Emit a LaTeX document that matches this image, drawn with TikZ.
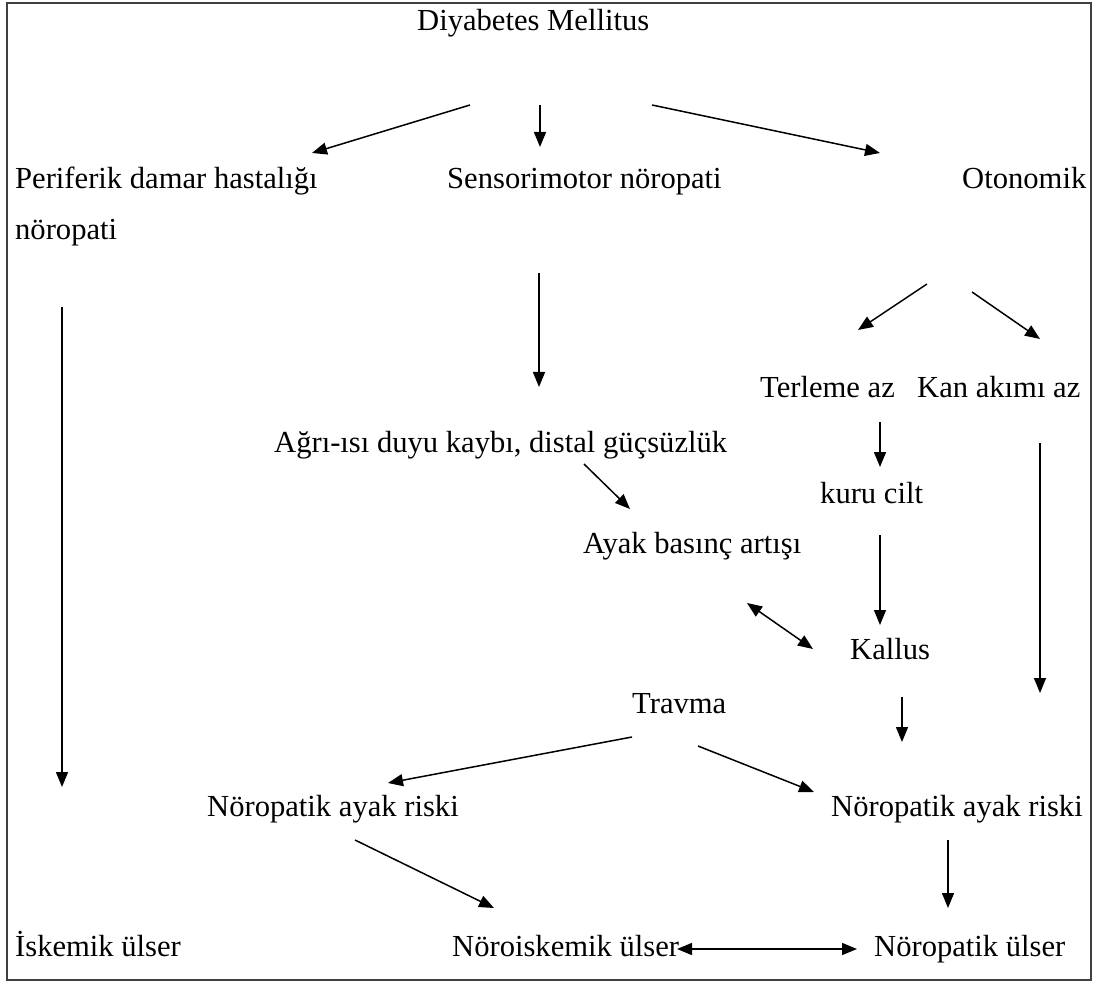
\documentclass[tikz,border=0pt]{standalone}
\usepackage{fontspec}
\setmainfont{Liberation Serif}
\usetikzlibrary{arrows.meta}
\begin{document}
\begin{tikzpicture}[x=1pt,y=-1pt,
  lbl/.style={anchor=base west,inner sep=0pt,font=\fontsize{30.6}{36}\selectfont},
  conn/.style={line width=1.5pt,-{Triangle[length=15pt,width=12pt]}},
  dconn/.style={line width=1.5pt,{Triangle[length=15pt,width=12pt]}-{Triangle[length=15pt,width=12pt]}}]
\useasboundingbox (0,0) rectangle (1093,984);
\draw[line width=2pt,black!75] (7,3) rectangle (1091,980);
% texts
\node[lbl] (dm) at (417,31) {Diyabetes Mellitus};
\node[lbl] (pdh) at (15,189) {Periferik damar hastalığı};
\node[lbl] (pdh2) at (15,240) {nöropati};
\node[lbl] (sn) at (447,189) {Sensorimotor nöropati};
\node[lbl] (oto) at (962,189) {Otonomik};
\node[lbl] (ter) at (760,398) {Terleme az};
\node[lbl] (kan) at (917,398) {Kan akımı az};
\node[lbl] (agri) at (274,452) {Ağrı-ısı duyu kaybı, distal güçsüzlük};
\node[lbl] (kuru) at (820,503) {kuru cilt};
\node[lbl] (ayak) at (583,553) {Ayak basınç artışı};
\node[lbl] (kal) at (850,659) {Kallus};
\node[lbl] (tra) at (632,713) {Travma};
\node[lbl] (nar1) at (207,816) {Nöropatik ayak riski};
\node[lbl] (nar2) at (831,816) {Nöropatik ayak riski};
\node[lbl] (isk) at (15,956) {İskemik ülser};
\node[lbl] (noi) at (452,956) {Nöroiskemik ülser};
\node[lbl] (nu) at (874,956) {Nöropatik ülser};
% connector end points
\coordinate (c1a) at (470,105); \coordinate (c1b) at (312,153);
\coordinate (c2a) at (540,105); \coordinate (c2b) at (540,147);
\coordinate (c3a) at (652,105); \coordinate (c3b) at (880,153);
\coordinate (c4a) at (62,307);  \coordinate (c4b) at (62,787);
\coordinate (c5a) at (539,273); \coordinate (c5b) at (539,387);
\coordinate (c6a) at (927,284); \coordinate (c6b) at (858,330);
\coordinate (c7a) at (972,292); \coordinate (c7b) at (1040,339);
\coordinate (c8a) at (880,422); \coordinate (c8b) at (880,467);
\coordinate (c9a) at (1040,443); \coordinate (c9b) at (1040,693);
\coordinate (c10a) at (584,464); \coordinate (c10b) at (630,509);
\coordinate (c11a) at (880,535); \coordinate (c11b) at (880,625);
\coordinate (c12a) at (747,603); \coordinate (c12b) at (813,649);
\coordinate (c13a) at (902,697); \coordinate (c13b) at (902,742);
\coordinate (c14a) at (632,737); \coordinate (c14b) at (388,783);
\coordinate (c15a) at (698,746); \coordinate (c15b) at (814,792);
\coordinate (c16a) at (355,840); \coordinate (c16b) at (494,908);
\coordinate (c17a) at (948,840); \coordinate (c17b) at (948,908);
\coordinate (c18a) at (677,949); \coordinate (c18b) at (857,949);
% connectors
\draw[conn] (c1a) -- (c1b);
\draw[conn] (c2a) -- (c2b);
\draw[conn] (c3a) -- (c3b);
\draw[conn] (c4a) -- (c4b);
\draw[conn] (c5a) -- (c5b);
\draw[conn] (c6a) -- (c6b);
\draw[conn] (c7a) -- (c7b);
\draw[conn] (c8a) -- (c8b);
\draw[conn] (c9a) -- (c9b);
\draw[conn] (c10a) -- (c10b);
\draw[conn] (c11a) -- (c11b);
\draw[dconn] (c12a) -- (c12b);
\draw[conn] (c13a) -- (c13b);
\draw[conn] (c14a) -- (c14b);
\draw[conn] (c15a) -- (c15b);
\draw[conn] (c16a) -- (c16b);
\draw[conn] (c17a) -- (c17b);
\draw[dconn] (c18a) -- (c18b);
\end{tikzpicture}
\end{document}
